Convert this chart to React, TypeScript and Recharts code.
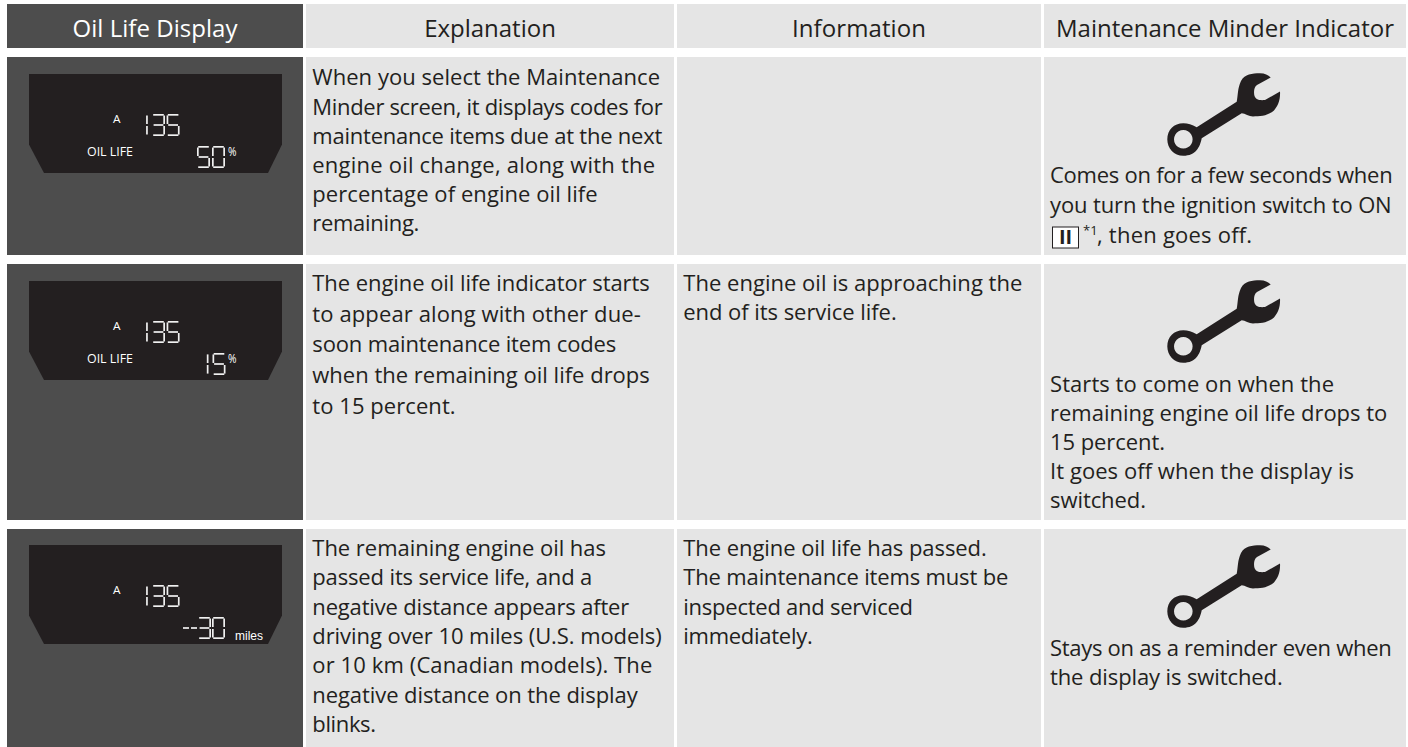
import React from "react";
import { ComposedChart, XAxis, YAxis, ReferenceArea } from "recharts";

const headers = ["Oil Life Display", "Explanation", "Information", "Maintenance Minder Indicator"];
const explanationRows = [
  ["When you select the Maintenance", "Minder screen, it displays codes for", "maintenance items due at the next", "engine oil change, along with the", "percentage of engine oil life", "remaining."],
  ["The engine oil life indicator starts", "to appear along with other due-", "soon maintenance item codes", "when the remaining oil life drops", "to 15 percent."],
  ["The remaining engine oil has", "passed its service life, and a", "negative distance appears after", "driving over 10 miles (U.S. models)", "or 10 km (Canadian models). The", "negative distance on the display", "blinks."],
];
const informationRows = [
  [] as string[],
  ["The engine oil is approaching the", "end of its service life."],
  ["The engine oil life has passed.", "The maintenance items must be", "inspected and serviced", "immediately."],
];
const indicatorRows = [
  ["Comes on for a few seconds when", "you turn the ignition switch to ON"],
  ["Starts to come on when the", "remaining engine oil life drops to", "15 percent.", "It goes off when the display is", "switched."],
  ["Stays on as a reminder even when", "the display is switched."],
];
const ignitionTail = ", then goes off.";
const ignitionKey = "II";
const ignitionNote = "*1";
const displayCode = "135";
const displayLetter = "A";
const displayLabel = "OIL LIFE";
const displayValues = ["50", "15", "--30"];
const displayUnits = ["%", "%", "miles"];

const INK = "#231f20";
const GREY = "#e5e5e5";
const DARK = "#4d4d4d";
const LCD = "#f0f0f0";
const FONT = "'Open Sans', sans-serif";
const SIZE = 22;

const colX: [number, number][] = [[7, 303], [306, 674], [677, 1041], [1044, 1406]];
const rowY: [number, number][] = [[57, 255], [264, 520], [529, 747]];
const textX = [312.3, 683.3, 1050];
const firstBase = [[85.3, 291, 556], [290.7, 290.7, 556], [183.3, 391.7, 655.7]];
const leads = [[29.2, 30.7, 29.3], [29.3, 29.3, 29.4], [29.7, 29.1, 29.3]];
const headerWidths = [165, 131.7, 134, 338];
const lineWidths = [
  [[347.7, 350.4, 350, 342.7, 285.4, 107], [337.5, 328.5, 304, 337.5, 143.3], [293.7, 280, 317, 349.4, 340, 325.4, 63.7]],
  [[], [339, 213.4], [303.5, 325, 229.7, 129.4]],
  [[342.7, 341.7], [284, 337.3, 115, 304, 96], [341.7, 232.7]],
];

const SEG: Record<string, string> = { "0": "abcdef", "1": "bc", "3": "abcdg", "5": "acdfg" };
function Digit({ ch, x, y }: { ch: string; x: number; y: number }) {
  const w = 13, h = 22, m = h / 2, s = 1.7;
  const lines: Record<string, number[]> = {
    a: [x + 1.2, y + s / 2, x + w - 1.2, y + s / 2],
    g: [x + 1.6, y + m, x + w - 1.6, y + m],
    d: [x + 1.2, y + h - s / 2, x + w - 1.2, y + h - s / 2],
    f: [x + s / 2, y + 1.4, x + s / 2, y + m - 1],
    e: [x + s / 2, y + m + 1, x + s / 2, y + h - 1.4],
    b: [x + w - s / 2, y + 1.4, x + w - s / 2, y + m - 1],
    c: [x + w - s / 2, y + m + 1, x + w - s / 2, y + h - 1.4],
  };
  return (
    <g stroke={LCD} strokeWidth={s}>
      {SEG[ch].split("").map((k) => {
        const l = lines[k];
        return <line key={k} x1={l[0]} y1={l[1]} x2={l[2]} y2={l[3]} />;
      })}
    </g>
  );
}

const WRENCH =
  "M1196.7 127.3 L1236.7 101.7 C1238 96 1237.5 88 1241 81 C1245 74 1252 73.5 1260 73.3 C1265 73.3 1268 75 1270.7 77.5 " +
  "L1257 85 C1254 87 1253.5 92 1254.5 96 C1256 100 1260 100.5 1265 100 L1280 91.5 " +
  "C1280.5 100 1278 106 1274 110.5 C1268 116 1260 116.5 1253 116.5 C1249 116.5 1245 113.5 1241.7 113.3 " +
  "L1201.7 138.3 C1200 147 1196 155.8 1183.3 155.8 C1174 155.8 1167.3 148.5 1167.3 139.3 C1167.3 130 1174 123.3 1183.3 123.3 " +
  "C1188 123.3 1192 124.5 1196.7 127.3 Z " +
  "M1183.3 130 A9.3 9.3 0 1 0 1183.31 130 Z";

function Panel({ i, top }: { i: number; top: number }) {
  const pts = [[29, 0], [282, 0], [282, 70.5], [268, 99], [44, 99], [29, 70.5]]
    .map((p) => `${p[0]},${p[1] + top}`)
    .join(" ");
  const y1 = top + 40;
  const y2 = top + 72;
  const value = displayValues[i];
  return (
    <g>
      <polygon points={pts} fill={INK} />
      <text x={113} y={top + 49} fill="#fff" fontFamily={FONT} fontSize={11.5} textLength={7.5} lengthAdjust="spacingAndGlyphs">{displayLetter}</text>
      <Digit ch={displayCode[0]} x={134.8} y={y1} />
      <Digit ch={displayCode[1]} x={152} y={y1} />
      <Digit ch={displayCode[2]} x={166.6} y={y1} />
      {i < 2 && (
        <text x={87} y={top + 81.8} fill="#fff" fontFamily={FONT} fontSize={13.5} textLength={46} lengthAdjust="spacingAndGlyphs">{displayLabel}</text>
      )}
      {i === 0 && <Digit ch={value[0]} x={197} y={y2} />}
      {i === 0 && <Digit ch={value[1]} x={212} y={y2} />}
      {i === 1 && <Digit ch={value[0]} x={195.5} y={y2} />}
      {i === 1 && <Digit ch={value[1]} x={212.5} y={y2} />}
      {i === 2 && (
        <g>
          <line x1={183} y1={y2 + 11} x2={189} y2={y2 + 11} stroke={LCD} strokeWidth={1.7} />
          <line x1={191} y1={y2 + 11} x2={197} y2={y2 + 11} stroke={LCD} strokeWidth={1.7} />
          <Digit ch={value[2]} x={198} y={y2} />
          <Digit ch={value[3]} x={212} y={y2} />
        </g>
      )}
      {i < 2 ? (
        <text x={228} y={top + 82} fill="#fff" fontFamily={FONT} fontSize={13} textLength={8.5} lengthAdjust="spacingAndGlyphs">{displayUnits[i]}</text>
      ) : (
        <text x={235} y={top + 95} fill="#fff" fontFamily="'Liberation Sans', sans-serif" fontSize={12.5} textLength={28} lengthAdjust="spacingAndGlyphs">{displayUnits[i]}</text>
      )}
    </g>
  );
}

function Lines({ lines, widths, x, y, lead }: { lines: string[]; widths: number[]; x: number; y: number; lead: number }) {
  return (
    <g fill={INK} fontFamily={FONT} fontSize={SIZE}>
      {lines.map((t, k) => (
        <text key={k} x={x} y={y + k * lead} textLength={widths[k]}>{t}</text>
      ))}
    </g>
  );
}

function Foreground() {
  const cols = [explanationRows, informationRows, indicatorRows];
  return (
    <g>
      {headers.map((t, i) => (
        <text key={t} x={(colX[i][0] + colX[i][1]) / 2} y={36.7} textAnchor="middle" fill={i === 0 ? "#fff" : INK} fontFamily={FONT} fontSize={24} textLength={headerWidths[i]}>{t}</text>
      ))}
      {rowY.map((r, ri) => (
        <Panel key={ri} i={ri} top={ri === 2 ? 545 : r[0] + 17} />
      ))}
      {cols.map((col, ci) =>
        col.map((lines, ri) => (
          <Lines key={`${ci}-${ri}`} lines={lines} widths={lineWidths[ci][ri]} x={textX[ci]} y={firstBase[ci][ri]} lead={leads[ci][ri]} />
        ))
      )}
      {rowY.map((r, ri) => (
        <path key={ri} fillRule="evenodd" fill={INK} d={WRENCH} transform={`translate(0 ${r[0] - 57})`} />
      ))}
      <rect x={1052.5} y={227} width={26} height={21} fill="#fff" stroke={INK} strokeWidth={1} />
      <text x={1065.5} y={244} textAnchor="middle" fill={INK} fontFamily={FONT} fontWeight={700} fontSize={20}>{ignitionKey}</text>
      <text x={1083} y={235} fill={INK} fontFamily={FONT} fontSize={13}>{ignitionNote}</text>
      <text x={1097} y={243} fill={INK} fontFamily={FONT} fontSize={SIZE} textLength={155}>{ignitionTail}</text>
    </g>
  );
}

export default function App() {
  return (
    <div style={{ position: "absolute", left: 0, top: 0, width: 1408, height: 747 }}>
      <ComposedChart width={1408} height={747} margin={{ top: 0, right: 0, bottom: 0, left: 0 }} data={[]}>
        <XAxis type="number" dataKey="x" domain={[0, 1408]} hide allowDataOverflow />
        <YAxis type="number" domain={[0, 747]} reversed hide allowDataOverflow />
        {colX.map((c, ci) => (
          <ReferenceArea key={`h${ci}`} x1={c[0]} x2={c[1]} y1={4} y2={48} fill={ci === 0 ? DARK : GREY} fillOpacity={1} stroke="none" />
        ))}
        {rowY.map((r, ri) =>
          colX.map((c, ci) => (
            <ReferenceArea key={`${ri}-${ci}`} x1={c[0]} x2={c[1]} y1={r[0]} y2={r[1]} fill={ci === 0 ? DARK : GREY} fillOpacity={1} stroke="none" />
          ))
        )}
        <ReferenceArea x1={0} x2={1408} y1={0} y2={747} shape={() => <Foreground />} />
      </ComposedChart>
    </div>
  );
}
